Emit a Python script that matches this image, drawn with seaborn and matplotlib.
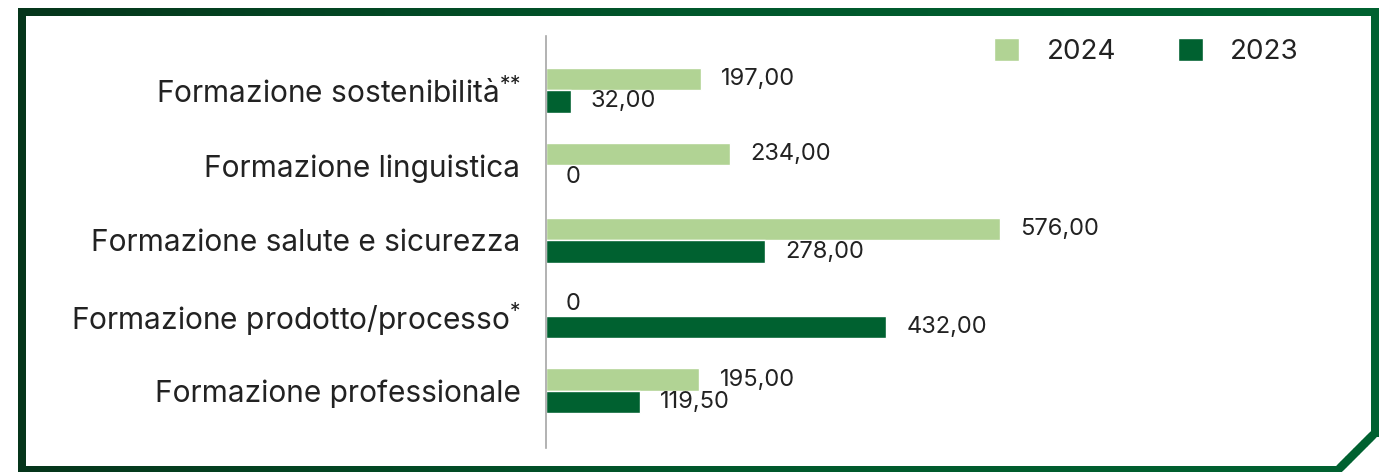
import numpy as np
import pandas as pd
import matplotlib.pyplot as plt
import seaborn as sns
from matplotlib.collections import LineCollection
from matplotlib.colors import LinearSegmentedColormap

# categorie e valori (ore di formazione)
categorie = [
    r"Formazione sostenibilità$^{{*}{*}}$",
    "Formazione linguistica",
    "Formazione salute e sicurezza",
    r"Formazione prodotto/processo$^{*}$",
    "Formazione professionale",
]
valori_2024 = [197.00, 234.00, 576.00, 0, 195.00]
valori_2023 = [32.00, 0, 278.00, 432.00, 119.50]
etichette_2024 = ["197,00", "234,00", "576,00", "0", "195,00"]
etichette_2023 = ["32,00", "0", "278,00", "432,00", "119,50"]
anni = ["2024", "2023"]

verde_chiaro = "#b1d394"
verde_scuro = "#006130"

df = pd.DataFrame({
    "categoria": categorie * 2,
    "valore": valori_2024 + valori_2023,
    "anno": [anni[0]] * len(categorie) + [anni[1]] * len(categorie),
})

sns.set_style("white")
plt.rcParams["font.family"] = ["Inter", "DejaVu Sans"]
plt.rcParams["mathtext.fontset"] = "custom"
plt.rcParams["mathtext.rm"] = "Inter"
plt.rcParams["mathtext.it"] = "Inter"
plt.rcParams["mathtext.default"] = "regular"

W, H = 1379, 472
fig = plt.figure(figsize=(W / 100, H / 100), dpi=100)

# cornice verde con angolo tagliato
bg = fig.add_axes([0, 0, 1, 1])
bg.set_xlim(0, W)
bg.set_ylim(H, 0)
bg.axis("off")
pts = np.array([[22, 12], [1375, 12], [1375, 433], [1338, 470], [22, 470], [22, 12]], dtype=float)
dense = []
for a, b in zip(pts[:-1], pts[1:]):
    n = int(np.hypot(*(b - a)) // 4) + 2
    for t in np.linspace(0, 1, n)[:-1]:
        dense.append(a + (b - a) * t)
dense.append(pts[-1])
dense = np.array(dense)
segs = np.stack([dense[:-1], dense[1:]], axis=1)
cmap = LinearSegmentedColormap.from_list("cornice", ["#05341a", "#00572b", "#006130"])
cols = cmap(np.clip(segs[:, :, 0].mean(axis=1) / W, 0, 1))
lc = LineCollection(segs, colors=cols, linewidths=8 * 72 / 100, capstyle="projecting")
bg.add_collection(lc)

ax = fig.add_axes([545.5 / W, 1 - 448 / H, (1340 - 545.5) / W, (448 - 36) / H])
ax.set_facecolor("none")
sns.barplot(data=df, y="categoria", x="valore", hue="anno", hue_order=anni,
            palette=[verde_chiaro, verde_scuro], orient="h", width=0.6,
            saturation=1, ax=ax)

for cont, etich in zip(ax.containers, [etichette_2024, etichette_2023]):
    ax.bar_label(cont, labels=etich, padding=14.5, fontsize=17, color="#222222")

ax.set_xlim(0, (1340 - 545.5) / ((1000 - 545.5) / 576))
ax.set_ylim(4.76, -0.72)
ax.set_xlabel("")
ax.set_ylabel("")
ax.set_xticks([])
ax.tick_params(axis="y", length=0, pad=18, labelsize=21.5, labelcolor="#222222")
for s in ["top", "right", "bottom"]:
    ax.spines[s].set_visible(False)
ax.spines["left"].set_color("#a6a6a6")
ax.spines["left"].set_linewidth(1.2)

handles, labels = ax.get_legend_handles_labels()
ax.legend(handles, labels, loc="upper left", bbox_to_anchor=(983 / W, 1 - 27 / H),
          bbox_transform=fig.transFigure, ncol=2, frameon=False, fontsize=20,
          handlelength=0.9, handleheight=0.9, handletextpad=1.0,
          columnspacing=2.2, labelcolor="#222222", borderaxespad=0)

fig.savefig("out.png", dpi=100)
